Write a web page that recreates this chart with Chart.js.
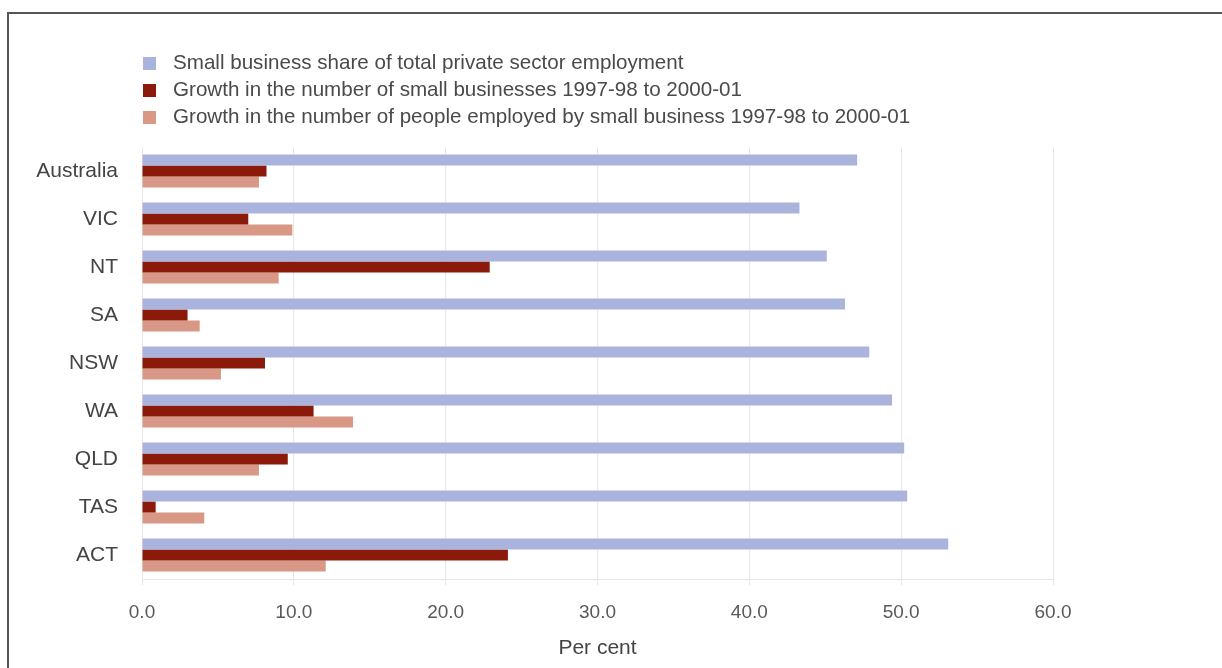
<!DOCTYPE html>
<html>
<head>
<meta charset="utf-8">
<script src="https://cdn.jsdelivr.net/npm/chart.js@4.4.0/dist/chart.umd.min.js"></script>
<style>
	html, body { margin: 0; padding: 0; background: #fff; }
	body { width: 1222px; height: 668px; position: relative; overflow: hidden; font-family: "Liberation Sans", Arial, sans-serif; }
	#frame { position: absolute; left: 7px; top: 12px; width: 1260px; height: 720px; border: 2px solid #555; }
	#chart { position: absolute; left: 0; top: 0; }
	#legend { position: absolute; left: 143px; top: 48px; margin: 0; padding: 0; list-style: none; }
	#legend li { height: 27px; line-height: 27px; font-size: 20.6px; color: #4a4a4a; white-space: nowrap; }
	#legend .box { display: inline-block; width: 13px; height: 13px; margin-right: 17px; vertical-align: -1px; }
</style>
</head>
<body>
<div id="frame"></div>
<canvas id="chart" width="1222" height="668"></canvas>
<ul id="legend"></ul>
<script>
var states = ["Australia", "VIC", "NT", "SA", "NSW", "WA", "QLD", "TAS", "ACT"];
var employmentShare = [47.1, 43.3, 45.1, 46.3, 47.9, 49.4, 50.2, 50.4, 53.1];
var businessGrowth = [8.2, 7.0, 22.9, 3.0, 8.1, 11.3, 9.6, 0.9, 24.1];
var peopleGrowth = [7.7, 9.9, 9.0, 3.8, 5.2, 13.9, 7.7, 4.1, 12.1];
var xTicks = [0, 10, 20, 30, 40, 50, 60];

var seriesNames = [
	"Small business share of total private sector employment",
	"Growth in the number of small businesses 1997-98 to 2000-01",
	"Growth in the number of people employed by small business 1997-98 to 2000-01"
];
var seriesColours = ['rgb(169, 179, 220)', 'rgb(140, 26, 10)', 'rgb(216, 152, 133)'];

var ctx = document.getElementById('chart').getContext('2d');
var chart = new Chart(ctx, {
	type: 'bar',
	data: {
		labels: states,
		datasets: [
			{ label: seriesNames[0], data: employmentShare, backgroundColor: seriesColours[0] },
			{ label: seriesNames[1], data: businessGrowth, backgroundColor: seriesColours[1] },
			{ label: seriesNames[2], data: peopleGrowth, backgroundColor: seriesColours[2] }
		]
	},
	options: {
		indexAxis: 'y',
		responsive: false,
		animation: false,
		categoryPercentage: 0.69,
		barPercentage: 1.0,
		layout: { padding: { top: 147, right: 169, bottom: 0, left: 0 } },
		plugins: {
			legend: { display: false },
			tooltip: { enabled: false }
		},
		scales: {
			x: {
				min: 0,
				max: 60,
				afterBuildTicks: function(scale) {
					scale.ticks = xTicks.map(function(v) { return { value: v }; });
				},
				afterFit: function(scale) { scale.height = 89; },
				grid: { color: '#e6e6e6', tickLength: 6 },
				border: { color: '#e6e6e6' },
				ticks: {
					padding: 16,
					color: '#595959',
					font: { family: 'Liberation Sans', size: 19 },
					callback: function(v) { return Number(v).toFixed(1); }
				},
				title: {
					display: true,
					text: 'Per cent',
					color: '#444',
					padding: { top: 0, bottom: 7 },
					font: { family: 'Liberation Sans', size: 21 }
				}
			},
			y: {
				afterFit: function(scale) { scale.width = 142; },
				grid: { display: false, drawTicks: false },
				border: { display: false },
				ticks: {
					padding: 24,
					color: '#444',
					font: { family: 'Liberation Sans', size: 21 }
				}
			}
		}
	}
});

// legend list built from the chart's own datasets
var legend = document.getElementById('legend');
chart.data.datasets.forEach(function(ds) {
	var li = document.createElement('li');
	var box = document.createElement('span');
	box.className = 'box';
	box.style.background = ds.backgroundColor;
	li.appendChild(box);
	li.appendChild(document.createTextNode(ds.label));
	legend.appendChild(li);
});
</script>
</body>
</html>
